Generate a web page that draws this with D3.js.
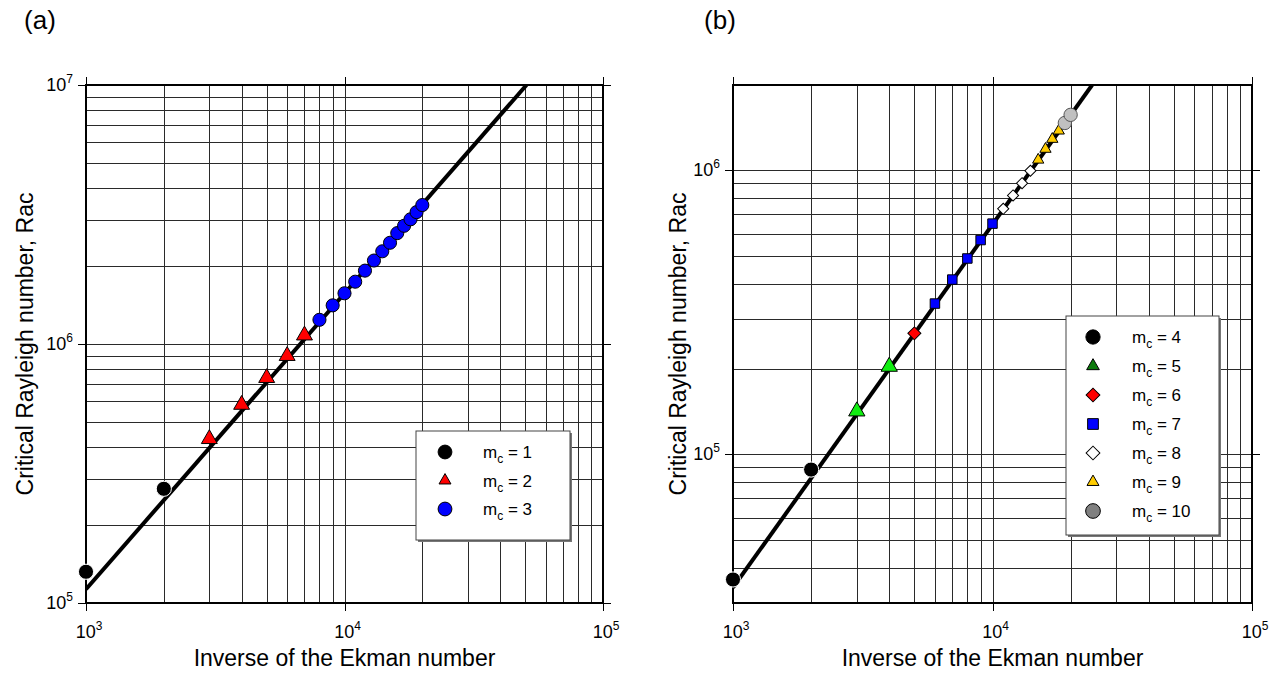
<!DOCTYPE html>
<html><head><meta charset="utf-8">
<script src="https://cdn.jsdelivr.net/npm/d3@7"></script>
<style>body{margin:0;background:#fff}svg{display:block}text{font-family:"Liberation Sans",Arial,sans-serif;fill:#000}</style>
</head><body><svg id="c" width="1284" height="674"></svg>
<script>
// ---------- Panel (a) data ----------
const a_m1_x = [1000, 2000];
const a_m1_y = [1.32e5, 2.76e5];
const a_m2_x = [3000, 4000, 5000, 6000, 7000];
const a_m2_y = [4.3e5, 5.83e5, 7.4e5, 9.0e5, 1.08e6];
const a_m3_x = [8000, 9000, 10000, 11000, 12000, 13000, 14000, 15000, 16000, 17000, 18000, 19000, 20000];
const a_m3_y = [1.24e6, 1.41e6, 1.57e6, 1.74e6, 1.92e6, 2.10e6, 2.28e6, 2.46e6, 2.68e6, 2.86e6, 3.03e6, 3.23e6, 3.44e6];
const a_fit_x = [1000, 50600];
const a_fit_y = [1.13e5, 1.0e7];
const a_xDomain = [1e3, 1e5];
const a_yDomain = [1e5, 1e7];
const a_xTicks = [1e3, 1e4, 1e5];
const a_xTickExp = ["3", "4", "5"];
const a_yTicks = [1e5, 1e6, 1e7];
const a_yTickExp = ["5", "6", "7"];
const a_legend = ["1", "2", "3"];

// ---------- Panel (b) data ----------
const b_m4_x = [1000, 2000];
const b_m4_y = [3.63e4, 8.85e4];
const b_m5_x = [3000, 4000];
const b_m5_y = [1.42e5, 2.04e5];
const b_m6_x = [5000];
const b_m6_y = [2.67e5];
const b_m7_x = [6000, 7000, 8000, 9000, 10000];
const b_m7_y = [3.4e5, 4.13e5, 4.9e5, 5.69e5, 6.5e5];
const b_m8_x = [11000, 12000, 13000, 14000];
const b_m8_y = [7.33e5, 8.17e5, 9.02e5, 9.98e5];
const b_m9_x = [15000, 16000, 17000, 18000];
const b_m9_y = [1.09e6, 1.19e6, 1.29e6, 1.38e6];
const b_m10_x = [19000, 20000];
const b_m10_y = [1.47e6, 1.57e6];
const b_fit_x = [1000, 24200];
const b_fit_y = [3.4e4, 2.0e6];
const b_xDomain = [1e3, 1e5];
const b_yDomain = [3e4, 2e6];
const b_xTicks = [1e3, 1e4, 1e5];
const b_xTickExp = ["3", "4", "5"];
const b_yTicks = [1e5, 1e6];
const b_yTickExp = ["5", "6"];
const b_legend = ["4", "5", "6", "7", "8", "9", "10"];

const xTitle = "Inverse of the Ekman number";
const yTitle = "Critical Rayleigh number, Rac";

const svg = d3.select("#c");
const FONT_AX = 23, FONT_TICK = 18, FONT_SUP = 12, FONT_LEG = 17;

function zip(xs, ys){ return xs.map((x,i)=>({x, y: ys[i]})); }

function symPath(type, size){
  if (type === "circle") return d3.symbol(d3.symbolCircle, size)();
  if (type === "triangle") return d3.symbol(d3.symbolTriangle, size)();
  return d3.symbol(d3.symbolSquare, size)();
}
function drawSym(g, type, size, fill, stroke, sw, cx, cy){
  g.append("path").attr("d", symPath(type, size))
   .attr("transform", `translate(${cx},${cy})` + (type === "diamond" ? " rotate(45)" : ""))
   .attr("fill", fill).attr("stroke", stroke).attr("stroke-width", sw);
}

function gridVals(domain){
  const out = [];
  const lo = Math.floor(Math.log10(domain[0]) + 1e-9), hi = Math.ceil(Math.log10(domain[1]) - 1e-9);
  for (let e = lo; e <= hi; e++) for (let m = 1; m <= 9; m++){
    const v = m * Math.pow(10, e);
    if (v > domain[0] * 1.0001 && v < domain[1] * 0.9999) out.push(v);
  }
  return out;
}

function panel(cfg){
  const x = d3.scaleLog().domain(cfg.xDomain).range([cfg.left, cfg.right]);
  const y = d3.scaleLog().domain(cfg.yDomain).range([cfg.bottom, cfg.top]);
  const g = svg.append("g");
  const snap = v => Math.round(v) + 0.5;

  // grid
  const grid = g.append("g").attr("stroke", "#2a2a2a").attr("stroke-width", 1).attr("shape-rendering", "crispEdges");
  gridVals(cfg.xDomain).forEach(v => grid.append("line")
    .attr("x1", snap(x(v))).attr("x2", snap(x(v))).attr("y1", cfg.top).attr("y2", cfg.bottom));
  gridVals(cfg.yDomain).forEach(v => grid.append("line")
    .attr("y1", snap(y(v))).attr("y2", snap(y(v))).attr("x1", cfg.left).attr("x2", cfg.right));

  // ticks outward on all sides
  const tk = g.append("g").attr("stroke", "#000").attr("stroke-width", 1).attr("shape-rendering", "crispEdges");
  cfg.xTicks.forEach(v => {
    tk.append("line").attr("x1", snap(x(v))).attr("x2", snap(x(v))).attr("y1", cfg.bottom).attr("y2", cfg.bottom + 8);
    tk.append("line").attr("x1", snap(x(v))).attr("x2", snap(x(v))).attr("y1", cfg.top).attr("y2", cfg.top - 8);
  });
  cfg.yTicks.forEach(v => {
    tk.append("line").attr("y1", snap(y(v))).attr("y2", snap(y(v))).attr("x1", cfg.left).attr("x2", cfg.left - 8);
    tk.append("line").attr("y1", snap(y(v))).attr("y2", snap(y(v))).attr("x1", cfg.right).attr("x2", cfg.right + 8);
  });

  // frame
  g.append("rect").attr("x", cfg.left).attr("y", cfg.top)
   .attr("width", cfg.right - cfg.left).attr("height", cfg.bottom - cfg.top)
   .attr("fill", "none").attr("stroke", "#000").attr("stroke-width", 2);

  // tick labels
  cfg.xTicks.forEach((v, i) => {
    const t = g.append("text").attr("x", x(v) + 3).attr("y", cfg.bottom + 35)
      .attr("text-anchor", "middle").attr("font-size", FONT_TICK);
    t.append("tspan").text("10");
    t.append("tspan").attr("dy", -8).attr("font-size", FONT_SUP).text(cfg.xTickExp[i]);
  });
  cfg.yTicks.forEach((v, i) => {
    const t = g.append("text").attr("x", cfg.left - 13).attr("y", y(v) + 6)
      .attr("text-anchor", "end").attr("font-size", FONT_TICK);
    t.append("tspan").text("10");
    t.append("tspan").attr("dy", -8).attr("font-size", FONT_SUP).text(cfg.yTickExp[i]);
  });

  // axis titles
  g.append("text").attr("x", (cfg.left + cfg.right) / 2).attr("y", cfg.bottom + 63)
    .attr("text-anchor", "middle").attr("font-size", FONT_AX).text(xTitle);
  g.append("text").attr("transform", `translate(${cfg.yTitleX},${(cfg.top + cfg.bottom) / 2}) rotate(-90)`)
    .attr("text-anchor", "middle").attr("font-size", FONT_AX).text(yTitle);
  g.append("text").attr("x", cfg.titleX).attr("y", 29).attr("text-anchor", "middle")
    .attr("font-size", 26).text(cfg.title);

  // clipped plot content
  const clipId = "clip" + cfg.title.replace(/\W/g, "");
  svg.append("clipPath").attr("id", clipId).append("rect")
    .attr("x", cfg.left).attr("y", cfg.top).attr("width", cfg.right - cfg.left).attr("height", cfg.bottom - cfg.top);
  const pg = g.append("g").attr("clip-path", `url(#${clipId})`);
  pg.append("path").datum(zip(cfg.fitX, cfg.fitY))
    .attr("d", d3.line().x(d => x(d.x)).y(d => y(d.y)))
    .attr("fill", "none").attr("stroke", "#000").attr("stroke-width", 4);

  const mg = g.append("g");
  cfg.series.forEach(s => {
    zip(s.xs, s.ys).forEach(d => drawSym(mg, s.type, s.size, s.fill, s.stroke, s.sw, x(d.x), y(d.y)));
  });

  // legend
  const L = cfg.legend;
  const lg = g.append("g");
  lg.append("rect").attr("x", L.x + 2).attr("y", L.y + 2).attr("width", L.w).attr("height", L.h).attr("fill", "#777");
  lg.append("rect").attr("x", L.x).attr("y", L.y).attr("width", L.w).attr("height", L.h)
    .attr("fill", "#fff").attr("stroke", "#444").attr("stroke-width", 1);
  cfg.series.forEach((s, i) => {
    const cy = L.y + L.first + i * L.step;
    drawSym(lg, s.type, s.legSize, s.legFill || s.fill, "#000", 1, L.x + L.symX, cy);
    const t = lg.append("text").attr("x", L.x + L.textX).attr("y", cy + 6).attr("font-size", FONT_LEG);
    t.append("tspan").text("m");
    t.append("tspan").attr("dy", 5).attr("font-size", 12).text("c");
    t.append("tspan").attr("dy", -5).text(" = " + cfg.legendLabels[i]);
  });
}

panel({
  title: "(a)", titleX: 40, yTitleX: 33,
  left: 86, right: 603, top: 85, bottom: 603,
  xDomain: a_xDomain, yDomain: a_yDomain,
  xTicks: a_xTicks, xTickExp: a_xTickExp, yTicks: a_yTicks, yTickExp: a_yTickExp,
  fitX: a_fit_x, fitY: a_fit_y,
  legendLabels: a_legend,
  legend: {x: 416, y: 431, w: 154, h: 109, first: 21, step: 28.5, symX: 29, textX: 67},
  series: [
    {xs: a_m1_x, ys: a_m1_y, type: "circle", size: 180, fill: "#000", stroke: "#fff", sw: 1, legSize: 150},
    {xs: a_m2_x, ys: a_m2_y, type: "triangle", size: 110, fill: "#ff0000", stroke: "#000", sw: 1, legSize: 62},
    {xs: a_m3_x, ys: a_m3_y, type: "circle", size: 135, fill: "#0000ff", stroke: "#000", sw: 1, legSize: 150}
  ]
});

panel({
  title: "(b)", titleX: 720, yTitleX: 686,
  left: 733, right: 1252, top: 85, bottom: 603,
  xDomain: b_xDomain, yDomain: b_yDomain,
  xTicks: b_xTicks, xTickExp: b_xTickExp, yTicks: b_yTicks, yTickExp: b_yTickExp,
  fitX: b_fit_x, fitY: b_fit_y,
  legendLabels: b_legend,
  legend: {x: 1066, y: 316, w: 153, h: 219, first: 21, step: 29, symX: 27, textX: 66},
  series: [
    {xs: b_m4_x, ys: b_m4_y, type: "circle", size: 180, fill: "#000", stroke: "#fff", sw: 1, legSize: 160},
    {xs: b_m5_x, ys: b_m5_y, type: "triangle", size: 115, fill: "#11ee11", stroke: "#000", sw: 1, legSize: 70, legFill: "#0b7a0b"},
    {xs: b_m6_x, ys: b_m6_y, type: "diamond", size: 85, fill: "#ff0000", stroke: "#000", sw: 1, legSize: 95},
    {xs: b_m7_x, ys: b_m7_y, type: "square", size: 90, fill: "#0000ff", stroke: "#000", sw: 1, legSize: 115},
    {xs: b_m8_x, ys: b_m8_y, type: "diamond", size: 62, fill: "#fff", stroke: "#000", sw: 1, legSize: 95},
    {xs: b_m9_x, ys: b_m9_y, type: "triangle", size: 55, fill: "#ffcc00", stroke: "#000", sw: 1, legSize: 62},
    {xs: b_m10_x, ys: b_m10_y, type: "circle", size: 140, fill: "#c0c0c0", stroke: "#555", sw: 1, legSize: 170, legFill: "#808080"}
  ]
});
</script></body></html>
